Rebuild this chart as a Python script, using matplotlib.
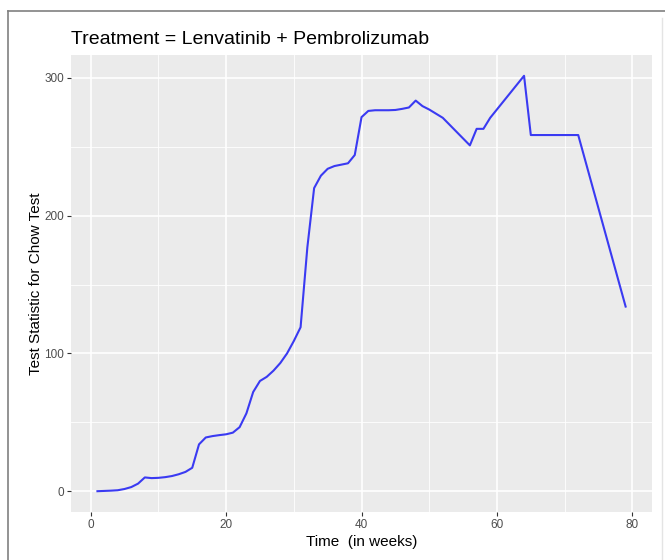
import matplotlib
matplotlib.use("Agg")
import matplotlib.pyplot as plt
from matplotlib.lines import Line2D

plt.rcParams['font.family'] = ['Liberation Sans', 'DejaVu Sans']

# Chow test statistic by week
weeks = [1, 2, 3, 4, 5, 6, 7, 8, 9, 10, 11, 12, 13, 14, 15, 16, 17, 18, 19, 20,
         21, 22, 23, 24, 25, 26, 27, 28, 29, 30, 31, 32, 33, 34, 35, 36, 37, 38, 39, 40,
         41, 42, 43, 44, 45, 46, 47, 48, 49, 50, 51, 52, 56, 57, 58, 59, 64, 65, 72, 79]
chow_stat = [0, 0.2, 0.4, 0.7, 1.6, 3, 5.5, 10, 9.5, 9.7, 10.2, 11, 12.3, 14, 17, 34, 39, 40, 40.7, 41.3,
             42.5, 46.5, 56.5, 72, 80, 83, 87.5, 93, 100, 109, 119, 177, 220, 229, 234, 236, 237, 238, 244, 271.5,
             276, 276.5, 276.5, 276.5, 276.7, 277.5, 278.5, 283.5, 279.5, 277, 274, 271, 251, 263, 263, 271,
             301.5, 258.5, 258.5, 134]

x_major = [0, 20, 40, 60, 80]
x_minor = [10, 30, 50, 70]
y_major = [0, 100, 200, 300]
y_minor = [50, 150, 250]

fig = plt.figure(figsize=(6.65, 5.6), dpi=100)
ax = fig.add_axes([0.1068, 0.0857, 0.8737, 0.8161])

ax.set_facecolor('#EBEBEB')
for s in ax.spines.values():
    s.set_visible(False)

for v in x_minor:
    ax.axvline(v, color='white', lw=0.6, zorder=0)
for v in y_minor:
    ax.axhline(v, color='white', lw=0.6, zorder=0)
for v in x_major:
    ax.axvline(v, color='white', lw=1.2, zorder=0)
for v in y_major:
    ax.axhline(v, color='white', lw=1.2, zorder=0)

ax.plot(weeks, chow_stat, color='#3a3af2', lw=1.5, zorder=3)

ax.set_xlim(-2.9, 82.9)
ax.set_ylim(-15.1, 316.6)
ax.set_xticks(x_major)
ax.set_yticks(y_major)
ax.tick_params(axis='both', length=3, width=0.8, color='#333333',
               labelsize=8.5, labelcolor='#4D4D4D', pad=2)

ax.set_xlabel('Time  (in weeks)', fontsize=11, labelpad=3)
ax.set_ylabel('Test Statistic for Chow Test', fontsize=11, labelpad=1)
ax.set_title('Treatment = Lenvatinib + Pembrolizumab', fontsize=14, loc='left', pad=8)

# outer frame
fig.add_artist(Line2D([8 / 665, 1], [1 - 11 / 560, 1 - 11 / 560], color='#808080', lw=1.2))
fig.add_artist(Line2D([8 / 665, 8 / 665], [0, 1 - 11 / 560], color='#808080', lw=1.2))
fig.add_artist(Line2D([662 / 665, 662 / 665], [0, 1 - 18 / 560], color='#e4e4e4', lw=1.0))

fig.savefig('out.png', dpi=100)
